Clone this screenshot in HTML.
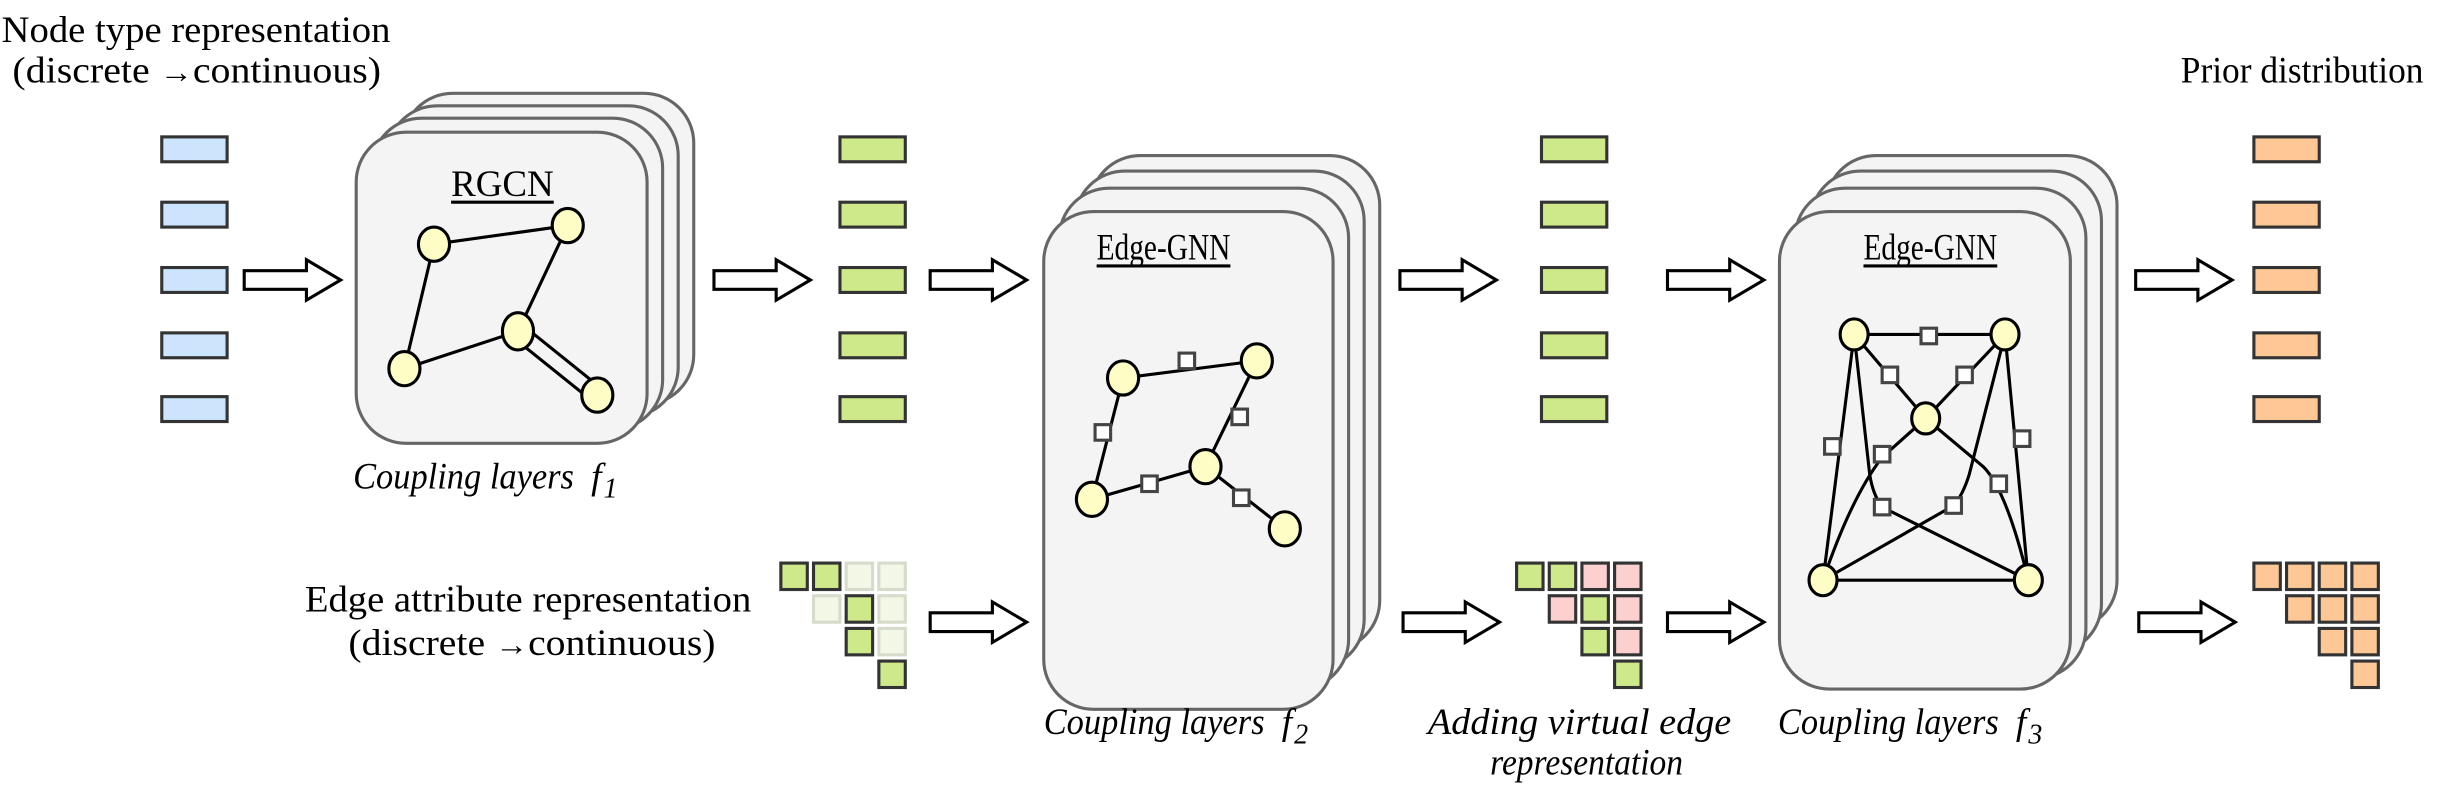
<!DOCTYPE html>
<html><head><meta charset="utf-8"><style>
html,body{margin:0;padding:0;background:#fff;}
svg{display:block;}
svg text{font-family:'Liberation Serif','DejaVu Serif','Times New Roman',serif;fill:#000;}
</style></head><body>
<svg width="2439" height="788" viewBox="0 0 1568 506.6" preserveAspectRatio="none" xmlns="http://www.w3.org/2000/svg" font-family="Liberation Serif, DejaVu Serif, serif">
<defs>
<path id="arr" d="M0,-6 L40,-6 L40,-13 L62,0 L40,13 L40,6 L0,6 Z" fill="#fff" stroke="#000" stroke-width="2" stroke-linejoin="miter"/>
</defs>

<text x="1" y="27" font-size="24" textLength="250" lengthAdjust="spacingAndGlyphs">Node type representation</text>
<text x="8" y="53" font-size="24" textLength="237" lengthAdjust="spacingAndGlyphs">(discrete <tspan font-size="20">→</tspan>continuous)</text>
<text x="1402" y="53" font-size="24" textLength="156" lengthAdjust="spacingAndGlyphs">Prior distribution</text>
<text x="196" y="393" font-size="24" textLength="287" lengthAdjust="spacingAndGlyphs">Edge attribute representation</text>
<text x="224" y="421" font-size="24" textLength="236" lengthAdjust="spacingAndGlyphs">(discrete <tspan font-size="20">→</tspan>continuous)</text>

<g stroke="#333" stroke-width="2">
<g fill="#cce5fc">
<rect x="104" y="88" width="42" height="16"/><rect x="104" y="130" width="42" height="16"/><rect x="104" y="172" width="42" height="16"/><rect x="104" y="214" width="42" height="16"/><rect x="104" y="255" width="42" height="16"/>
</g>
<g fill="#cde98a">
<rect x="540" y="88" width="42" height="16"/><rect x="540" y="130" width="42" height="16"/><rect x="540" y="172" width="42" height="16"/><rect x="540" y="214" width="42" height="16"/><rect x="540" y="255" width="42" height="16"/>
<rect x="991" y="88" width="42" height="16"/><rect x="991" y="130" width="42" height="16"/><rect x="991" y="172" width="42" height="16"/><rect x="991" y="214" width="42" height="16"/><rect x="991" y="255" width="42" height="16"/>
</g>
<g fill="#fdc896">
<rect x="1449" y="88" width="42" height="16"/><rect x="1449" y="130" width="42" height="16"/><rect x="1449" y="172" width="42" height="16"/><rect x="1449" y="214" width="42" height="16"/><rect x="1449" y="255" width="42" height="16"/>
</g>
</g>

<g stroke-width="2">
<g stroke="#333" fill="#cde98a">
<rect x="502" y="362" width="17" height="17"/><rect x="523" y="362" width="17" height="17"/>
<rect x="544" y="383" width="17" height="17"/><rect x="544" y="404" width="17" height="17"/><rect x="565" y="425" width="17" height="17"/>
</g>
<g stroke="#d6dccb" fill="#f2f7e6">
<rect x="544" y="362" width="17" height="17"/><rect x="565" y="362" width="17" height="17"/>
<rect x="523" y="383" width="17" height="17"/><rect x="565" y="383" width="17" height="17"/><rect x="565" y="404" width="17" height="17"/>
</g>
<g stroke="#333" fill="#cde98a">
<rect x="975" y="362" width="17" height="17"/><rect x="996" y="362" width="17" height="17"/>
<rect x="1017" y="383" width="17" height="17"/><rect x="1017" y="404" width="17" height="17"/><rect x="1038" y="425" width="17" height="17"/>
</g>
<g stroke="#333" fill="#fdd0d0">
<rect x="1017" y="362" width="17" height="17"/><rect x="1038" y="362" width="17" height="17"/>
<rect x="996" y="383" width="17" height="17"/><rect x="1038" y="383" width="17" height="17"/><rect x="1038" y="404" width="17" height="17"/>
</g>
<g stroke="#333" fill="#fdc896">
<rect x="1449" y="362" width="17" height="17"/><rect x="1470" y="362" width="17" height="17"/><rect x="1491" y="362" width="17" height="17"/><rect x="1512" y="362" width="17" height="17"/>
<rect x="1470" y="383" width="17" height="17"/><rect x="1491" y="383" width="17" height="17"/><rect x="1512" y="383" width="17" height="17"/>
<rect x="1491" y="404" width="17" height="17"/><rect x="1512" y="404" width="17" height="17"/>
<rect x="1512" y="425" width="17" height="17"/>
</g>
</g>

<use href="#arr" x="157" y="180"/>
<use href="#arr" x="459" y="180"/>
<use href="#arr" x="598" y="180"/>
<use href="#arr" x="900" y="180"/>
<use href="#arr" x="1072" y="180"/>
<use href="#arr" x="1373" y="180"/>
<use href="#arr" x="598" y="400"/>
<use href="#arr" x="902" y="400"/>
<use href="#arr" x="1072" y="400"/>
<use href="#arr" x="1375" y="400"/>

<g fill="#f4f4f4" stroke="#666" stroke-width="2">
<rect x="259" y="60" width="187" height="200" rx="32"/>
<rect x="249" y="68" width="187" height="200" rx="32"/>
<rect x="239" y="76" width="187" height="200" rx="32"/>
<rect x="229" y="85" width="187" height="200" rx="32"/>

<rect x="701" y="100" width="186" height="318" rx="32"/>
<rect x="691" y="110" width="186" height="320" rx="32"/>
<rect x="681" y="121" width="186" height="322" rx="32"/>
<rect x="671" y="136" width="186" height="320" rx="32"/>

<rect x="1174" y="100" width="187" height="305" rx="32"/>
<rect x="1164" y="110" width="187" height="310" rx="32"/>
<rect x="1154" y="121" width="187" height="315" rx="32"/>
<rect x="1144" y="136" width="187" height="307" rx="32"/>
</g>

<text x="290" y="126" font-size="24" textLength="66" lengthAdjust="spacingAndGlyphs">RGCN</text>
<line x1="290" y1="130" x2="356" y2="130" stroke="#000" stroke-width="2"/>
<text x="705" y="167" font-size="24" textLength="86" lengthAdjust="spacingAndGlyphs">Edge-GNN</text>
<line x1="705" y1="171" x2="791" y2="171" stroke="#000" stroke-width="2"/>
<text x="1198" y="167" font-size="24" textLength="86" lengthAdjust="spacingAndGlyphs">Edge-GNN</text>
<line x1="1198" y1="171" x2="1284" y2="171" stroke="#000" stroke-width="2"/>

<g stroke="#000" stroke-width="2" fill="none">
<line x1="279" y1="157" x2="365" y2="145"/>
<line x1="279" y1="157" x2="260" y2="237"/>
<line x1="365" y1="145" x2="333" y2="213"/>
<line x1="333" y1="213" x2="260" y2="237"/>
<line x1="336" y1="209" x2="387" y2="250"/>
<line x1="330" y1="217" x2="381" y2="258"/>
</g>
<g fill="#fdfdc5" stroke="#000" stroke-width="2">
<ellipse cx="279" cy="157" rx="10" ry="11"/><ellipse cx="365" cy="145" rx="10" ry="11"/><ellipse cx="333" cy="213" rx="10" ry="12"/><ellipse cx="260" cy="237" rx="10" ry="11"/><ellipse cx="384" cy="254" rx="10" ry="11"/>
</g>

<g stroke="#000" stroke-width="2" fill="none">
<line x1="722" y1="243" x2="808" y2="232"/>
<line x1="722" y1="243" x2="702" y2="321"/>
<line x1="808" y1="232" x2="775" y2="300"/>
<line x1="775" y1="300" x2="702" y2="321"/>
<line x1="775" y1="300" x2="826" y2="340"/>
</g>
<g fill="#fff" stroke="#444" stroke-width="2">
<rect x="758" y="227" width="10" height="10"/><rect x="792" y="263" width="10" height="10"/><rect x="704" y="273" width="10" height="10"/><rect x="734" y="306" width="10" height="10"/><rect x="793" y="315" width="10" height="10"/>
</g>
<g fill="#fdfdc5" stroke="#000" stroke-width="2">
<ellipse cx="722" cy="243" rx="10" ry="11"/><ellipse cx="808" cy="232" rx="10" ry="11"/><ellipse cx="775" cy="300" rx="10" ry="11"/><ellipse cx="702" cy="321" rx="10" ry="11"/><ellipse cx="826" cy="340" rx="10" ry="11"/>
</g>

<g stroke="#000" stroke-width="2" fill="none">
<line x1="1192" y1="215" x2="1289" y2="215"/>
<line x1="1192" y1="215" x2="1238" y2="269"/>
<line x1="1289" y1="215" x2="1238" y2="269"/>
<line x1="1192" y1="215" x2="1172" y2="373"/>
<line x1="1289" y1="215" x2="1304" y2="373"/>
<line x1="1172" y1="373" x2="1304" y2="373"/>
<path d="M1238,269 L1210,294 Q1190,320 1172,373"/>
<path d="M1238,269 L1275,300 Q1290,315 1304,373"/>
<path d="M1192,215 L1202,305 Q1204,318 1210,326 L1304,373"/>
<path d="M1289,215 L1266,305 Q1262,318 1256,325 L1172,373"/>
</g>
<g fill="#fff" stroke="#444" stroke-width="2">
<rect x="1235" y="211" width="10" height="10"/>
<rect x="1210" y="236" width="10" height="10"/>
<rect x="1258" y="236" width="10" height="10"/>
<rect x="1173" y="282" width="10" height="10"/>
<rect x="1295" y="277" width="10" height="10"/>
<rect x="1205" y="287" width="10" height="10"/>
<rect x="1280" y="306" width="10" height="10"/>
<rect x="1205" y="321" width="10" height="10"/>
<rect x="1251" y="320" width="10" height="10"/>
</g>
<g fill="#fdfdc5" stroke="#000" stroke-width="2">
<ellipse cx="1192" cy="215" rx="9" ry="10"/><ellipse cx="1289" cy="215" rx="9" ry="10"/><ellipse cx="1238" cy="269" rx="9" ry="10"/><ellipse cx="1172" cy="373" rx="9" ry="10"/><ellipse cx="1304" cy="373" rx="9" ry="10"/>
</g>

<g font-size="24" font-style="italic">
<text x="227" y="314" textLength="142" lengthAdjust="spacingAndGlyphs">Coupling layers</text>
<text x="380" y="314">f</text><text x="388" y="320" font-size="18">1</text>
<text x="671" y="472" textLength="142" lengthAdjust="spacingAndGlyphs">Coupling layers</text>
<text x="824" y="472">f</text><text x="832" y="478" font-size="18">2</text>
<text x="918" y="472" textLength="195" lengthAdjust="spacingAndGlyphs">Adding virtual edge</text>
<text x="958" y="498" textLength="124" lengthAdjust="spacingAndGlyphs">representation</text>
<text x="1143" y="472" textLength="142" lengthAdjust="spacingAndGlyphs">Coupling layers</text>
<text x="1296" y="472">f</text><text x="1304" y="478" font-size="18">3</text>
</g>
</svg>
</body></html>
